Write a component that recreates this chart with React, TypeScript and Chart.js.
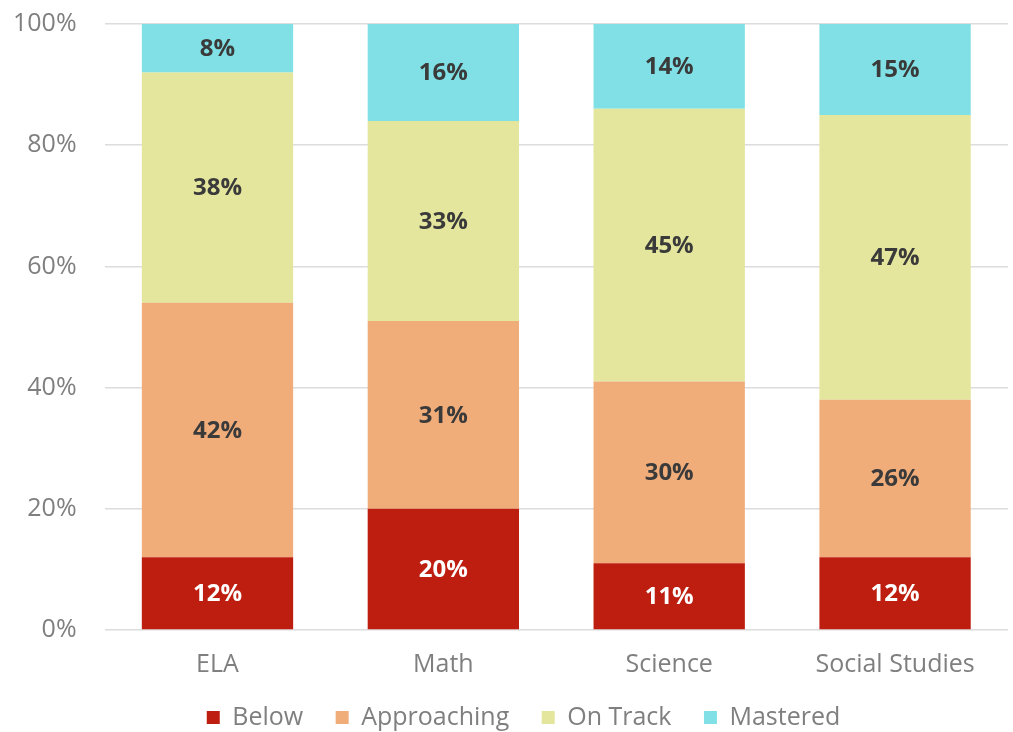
import React, { useEffect, useRef } from "react";
import { Chart, registerables } from "chart.js";

Chart.register(...registerables);

const categories = ["ELA", "Math", "Science", "Social Studies"];
const below = [12, 20, 11, 12];
const approaching = [42, 31, 30, 26];
const onTrack = [38, 33, 45, 47];
const mastered = [8, 16, 14, 15];
const seriesNames = ["Below", "Approaching", "On Track", "Mastered"];
const seriesColors = ["#BE1E10", "#F0AD7A", "#E3E69C", "#80E0E5"];
const labelColors = ["#FFFFFF", "#3A3A3A", "#3A3A3A", "#3A3A3A"];
const yTicks = [0, 20, 40, 60, 80, 100];

const FONT = "'Open Sans', 'Noto Sans', sans-serif";
const OFFSET_TOP = -19;
const OFFSET_LEFT = -29;
const CANVAS_W = 1013 - OFFSET_LEFT;
const CANVAS_H = 763;
const LEGEND_SHIFT = 27;

const dataLabelPlugin = {
  id: "segLabels",
  afterDatasetsDraw(chart: any) {
    const ctx = chart.ctx;
    ctx.save();
    ctx.font = `bold 24px ${FONT}`;
    ctx.textAlign = "center";
    ctx.textBaseline = "middle";
    chart.data.datasets.forEach((ds: any, di: number) => {
      const meta = chart.getDatasetMeta(di);
      meta.data.forEach((bar: any, i: number) => {
        const v = ds.data[i];
        const y = (bar.y + bar.base) / 2;
        ctx.fillStyle = labelColors[di];
        ctx.fillText(v + "%", bar.x, y + 1);
      });
    });
    ctx.restore();
  },
};

const legendShiftPlugin = {
  id: "legendShift",
  afterLayout(chart: any) {
    const lg = chart.legend;
    if (lg) {
      lg.left += LEGEND_SHIFT;
      lg.right += LEGEND_SHIFT;
    }
  },
};

export default function App() {
  const ref = useRef<HTMLCanvasElement>(null);
  useEffect(() => {
    const series = [below, approaching, onTrack, mastered];
    const defaultGen = Chart.defaults.plugins.legend.labels.generateLabels;
    const chart = new Chart(ref.current!, {
      type: "bar",
      data: {
        labels: categories,
        datasets: series.map((d, i) => ({
          label: seriesNames[i],
          data: d,
          backgroundColor: seriesColors[i],
          borderWidth: 0,
          categoryPercentage: 0.67,
          barPercentage: 1,
        })),
      },
      options: {
        animation: false,
        responsive: false,
        layout: { padding: { left: 14, right: 5, top: 8, bottom: 4 } },
        scales: {
          x: {
            stacked: true,
            grid: { display: false },
            border: { display: false },
            ticks: { color: "#7F7F7F", font: { family: FONT, size: 25 }, padding: 12 },
          },
          y: {
            stacked: true,
            min: 0,
            max: 100,
            afterBuildTicks: (axis: any) => {
              axis.ticks = yTicks.map((v) => ({ value: v }));
            },
            grid: { color: "#DCDCDC", lineWidth: 1.5, drawTicks: false },
            border: { display: false },
            ticks: {
              color: "#7F7F7F",
              font: { family: FONT, size: 25 },
              padding: 28,
              callback: (v: any) => v + "%",
            },
          },
        },
        plugins: {
          legend: {
            position: "bottom",
            labels: {
              color: "#7F7F7F",
              font: { family: FONT, size: 25 },
              boxWidth: 13,
              boxHeight: 13,
              padding: 13,
              generateLabels: (c: any) => {
                const items = defaultGen(c);
                return items.map((it: any, i: number) => ({
                  ...it,
                  lineWidth: 0,
                  text: i < items.length - 1 ? it.text + "\u00a0\u00a0\u00a0" : it.text,
                }));
              },
            },
          },
          tooltip: { enabled: false },
        },
      },
      plugins: [dataLabelPlugin, legendShiftPlugin],
    });
    return () => chart.destroy();
  }, []);
  return (
    <div
      style={{
        position: "absolute",
        left: 0,
        top: 0,
        width: 1013,
        height: 732,
        overflow: "hidden",
      }}
    >
      <canvas
        ref={ref}
        width={CANVAS_W}
        height={CANVAS_H}
        style={{ position: "absolute", left: OFFSET_LEFT, top: OFFSET_TOP }}
      />
    </div>
  );
}
